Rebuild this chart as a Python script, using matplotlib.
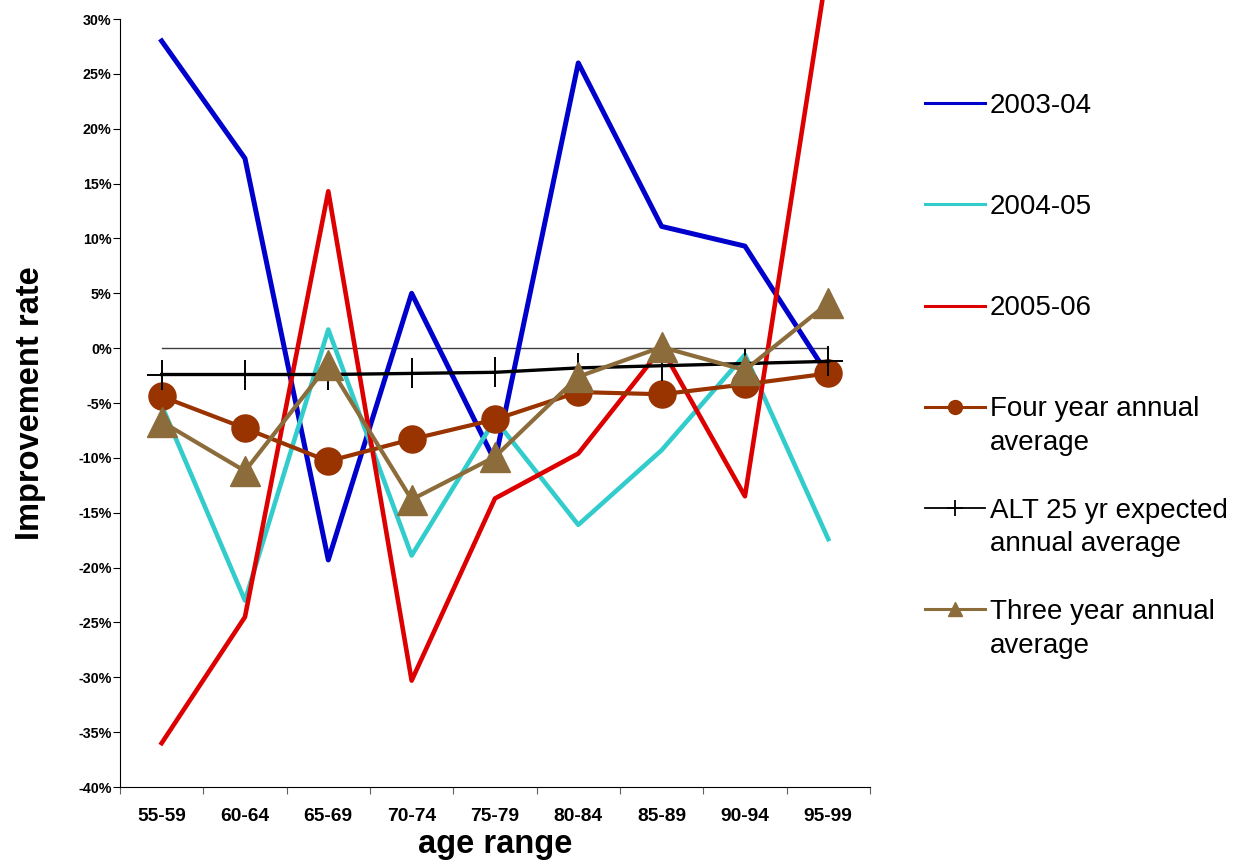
import numpy as np
import matplotlib.pyplot as plt
from matplotlib.lines import Line2D

# values (improvement rate, %)
ages = ['55-59', '60-64', '65-69', '70-74', '75-79', '80-84', '85-89', '90-94', '95-99']
y2003_04 = [28.0, 17.3, -19.3, 5.0, -10.3, 26.0, 11.1, 9.3, -2.5]
y2004_05 = [-5.2, -23.0, 1.7, -18.9, -6.5, -16.1, -9.3, -0.6, -17.4]
y2005_06 = [-36.0, -24.5, 14.3, -30.3, -13.7, -9.6, 0.0, -13.5, 35.2]
four_year = [-4.4, -7.3, -10.3, -8.3, -6.5, -4.0, -4.2, -3.3, -2.3]
alt_25yr = [-2.4, -2.4, -2.4, -2.3, -2.2, -1.8, -1.6, -1.4, -1.2]
three_year = [-6.7, -11.2, -1.5, -13.8, -9.9, -2.6, 0.1, -2.0, 4.1]
zero_line = [0, 0, 0, 0, 0, 0, 0, 0, 0]
y_ticks = list(range(-40, 31, 5))

plt.rcParams['font.family'] = ['Liberation Sans', 'DejaVu Sans']

fig = plt.figure(figsize=(12.38, 8.61), dpi=100)
ax = fig.add_axes([0.0969, 0.0859, 0.6058, 0.892])

x = np.arange(len(ages))

ax.plot(x, zero_line, color='#404040', lw=1)
ax.plot(x, y2003_04, color='#0000cc', lw=3.6)
ax.plot(x, y2004_05, color='#33cccc', lw=3.3)
ax.plot(x, y2005_06, color='#dd0000', lw=3.3, clip_on=False)
ax.plot(x, four_year, color='#993300', lw=3.0, marker='o', ms=19.5)
ax.plot(x, alt_25yr, color='black', lw=2.4, marker='+', ms=21.5, mew=1.4)
ax.plot(x, three_year, color='#8b6c3a', lw=3.0, marker='^', ms=21)

ax.set_xlim(-0.5, len(ages) - 0.5)
ax.set_xticks(np.arange(-0.5, len(ages), 1))
ax.set_xticklabels([])
ax.set_xticks(x, minor=True)
ax.set_xticklabels(ages, minor=True, fontsize=13.8, fontweight='bold')
ax.tick_params(axis='x', which='major', length=5, color='#606060')
ax.tick_params(axis='x', which='minor', length=0, pad=15)

ax.set_ylim(-40, 30)
ax.set_yticks(y_ticks)
ax.set_yticklabels([f'{v}%' for v in y_ticks], fontsize=10.3, fontweight='bold')
ax.tick_params(axis='y', length=5, pad=1)

ax.spines['top'].set_visible(False)
ax.spines['right'].set_visible(False)

ax.set_ylabel('Improvement rate', fontsize=23.5, fontweight='bold', labelpad=23)
ax.set_xlabel('age range', fontsize=23.5, fontweight='bold', labelpad=3)

# legend: single-line rows, blank rows give the gaps between entries
blank = Line2D([], [], linestyle='none')
h_blue = Line2D([], [], color='#0000cc', lw=2.2)
h_cyan = Line2D([], [], color='#33cccc', lw=2.2)
h_red = Line2D([], [], color='#dd0000', lw=2.2)
h_four = Line2D([], [], color='#993300', lw=2.2, marker='o', ms=10)
h_alt = Line2D([], [], color='black', lw=1.3, marker='+', ms=11, mew=1.3)
h_three = Line2D([], [], color='#8b6c3a', lw=2.2, marker='^', ms=10)

handles = [h_blue, blank, blank, h_cyan, blank, blank, h_red, blank, blank,
           h_four, blank, blank, h_alt, blank, blank, h_three, blank]
labels = ['2003-04', '', '', '2004-05', '', '', '2005-06', '', '',
          'Four year annual', 'average', '', 'ALT 25 yr expected', 'annual average', '',
          'Three year annual', 'average']

ax.legend(handles, labels, loc='upper left', bbox_to_anchor=(925 / 1238, 1 - 93 / 861),
          bbox_transform=fig.transFigure, frameon=False, fontsize=20.0,
          handlelength=2.16, handletextpad=0.17, labelspacing=0.278,
          borderpad=0, borderaxespad=0)

plt.savefig('out.png', dpi=100)
